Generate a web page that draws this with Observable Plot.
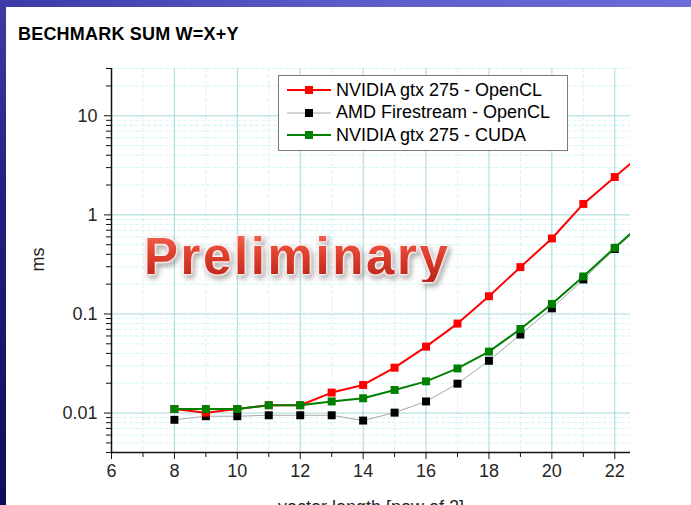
<!DOCTYPE html>
<html>
<head>
<meta charset="utf-8">
<script src="https://cdn.jsdelivr.net/npm/d3@7"></script>
<script src="https://cdn.jsdelivr.net/npm/@observablehq/plot@0.6"></script>
<style>
  html, body { margin: 0; padding: 0; width: 691px; height: 505px; overflow: hidden; background: #fff; }
  body { font-family: "Liberation Sans", Arial, sans-serif; }
  #page { position: relative; width: 691px; height: 505px; }
  #topband { position: absolute; left: 0; top: 0; width: 691px; height: 7px; z-index: 5;
    background: linear-gradient(to right, #3b3ba6, #5c5cc6 50%, #6c6cd6); }
  #leftband { position: absolute; left: 0; top: 0; width: 6px; height: 505px; z-index: 6;
    background: linear-gradient(to bottom, #3c3ca6, #202080 40%, #0e0e58); }
  #title { position: absolute; left: 18px; top: 25px; font-size: 18px; line-height: 18px;
    font-weight: bold; letter-spacing: 0.2px; color: #000; white-space: nowrap; }
  #chart { position: absolute; left: 0; top: 50px; }
  #chart svg { overflow: visible; }
  #legend { position: absolute; left: 278px; top: 75px; width: 288px; height: 71px;
    border: 1px solid #7a7a7a; background: #fff; padding-top: 3px; box-sizing: content-box; }
  #legend .row { display: flex; align-items: center; height: 22.5px; font-size: 18px; color: #000; white-space: nowrap; }
  #legend svg { margin-left: 8px; margin-right: 5px; flex: none; }
  #stamp { position: absolute; left: 144px; top: 231px; font-size: 51px; line-height: 51px;
    font-weight: bold; letter-spacing: 2.6px; white-space: nowrap;
    font-family: "Liberation Sans", Arial, sans-serif;
    background: linear-gradient(to bottom, #f26a58 0%, #e0402e 45%, #b8221a 100%);
    -webkit-background-clip: text; background-clip: text; color: transparent;
    filter: drop-shadow(0 0 1.2px #fff) drop-shadow(0 0 1.2px #fff) drop-shadow(0 0 1px #ffe0dc) drop-shadow(2px 3px 2.5px rgba(0,0,0,0.35)); }
</style>
</head>
<body>
<div id="page">
  <div id="topband"></div>
  <div id="leftband"></div>
  <div id="title">BECHMARK SUM W=X+Y</div>
  <div id="chart"></div>
  <div id="legend"></div>
  <div id="stamp">Preliminary</div>
</div>
<script>
// Vector length as power of two, and run times in milliseconds
const sizes = [8, 9, 10, 11, 12, 13, 14, 15, 16, 17, 18, 19, 20, 21, 22, 23];
const nvidiaOpenCL = [0.0110, 0.0101, 0.0110, 0.0120, 0.0120, 0.0161, 0.0192, 0.0287, 0.0468, 0.080, 0.151, 0.297, 0.578, 1.29, 2.41, 4.5];
const amdOpenCL    = [0.00855, 0.0093, 0.0093, 0.0095, 0.0095, 0.0095, 0.0084, 0.0101, 0.0131, 0.0198, 0.0337, 0.062, 0.114, 0.223, 0.452, 0.87];
const nvidiaCUDA   = [0.0110, 0.0110, 0.0110, 0.0120, 0.0120, 0.0131, 0.0141, 0.0171, 0.0209, 0.0282, 0.0417, 0.0706, 0.1263, 0.239, 0.466, 0.895];

const seriesNames = ["NVIDIA gtx 275 - OpenCL", "AMD Firestream - OpenCL", "NVIDIA gtx 275 - CUDA"];
const seriesColors = ["#ff0000", "#000000", "#008000"];
const lineColors = ["#ff0000", "#a8a8a8", "#008000"];
const lineWidths = [2, 1, 2];

// Axis ticks
const xTicks = [6, 8, 10, 12, 14, 16, 18, 20, 22];
const xMinor = [7, 9, 11, 13, 15, 17, 19, 21];
const yTicks = [0.01, 0.1, 1, 10];
const yMinor = [0.004, 0.005, 0.006, 0.007, 0.008, 0.009,
                0.02, 0.03, 0.04, 0.05, 0.06, 0.07, 0.08, 0.09,
                0.2, 0.3, 0.4, 0.5, 0.6, 0.7, 0.8, 0.9,
                2, 3, 4, 5, 6, 7, 8, 9, 20, 30];

const xLabel = "vector length [pow of 2]";
const yLabel = "ms";

const toRows = (vals) => sizes.map((x, i) => ({x, y: vals[i]}));
const series = [toRows(nvidiaOpenCL), toRows(amdOpenCL), toRows(nvidiaCUDA)];
// draw order: AMD underneath, then NVIDIA OpenCL, CUDA on top
const order = [1, 0, 2];

const seriesMarks = order.flatMap((k) => [
  Plot.line(series[k], {x: "x", y: "y", stroke: lineColors[k], strokeWidth: lineWidths[k], clip: true}),
  Plot.dot(series[k], {x: "x", y: "y", symbol: "square", r: 4.5, fill: seriesColors[k], clip: true})
]);

const gridMajor = "#a6d8d8";
const gridMinor = "#d2f6f6";

const chart = Plot.plot({
  width: 691,
  height: 455,
  marginLeft: 111,
  marginRight: 61,
  marginTop: 18,
  marginBottom: 53,
  style: {fontFamily: "'Liberation Sans', Arial, sans-serif", fontSize: "18px", color: "#262626", background: "transparent", overflow: "visible"},
  x: {domain: [6, 22.5]},
  y: {type: "log", domain: [0.004, 30]},
  marks: [
    Plot.gridX(xMinor, {stroke: gridMinor, strokeOpacity: 1, strokeDasharray: "4,2"}),
    Plot.gridY(yMinor, {stroke: gridMinor, strokeOpacity: 1, strokeDasharray: "4,2"}),
    Plot.gridX(xTicks, {stroke: gridMajor, strokeOpacity: 1}),
    Plot.gridY(yTicks, {stroke: gridMajor, strokeOpacity: 1}),
    Plot.axisX(xMinor, {tickSize: 5, tickFormat: () => "", label: null, stroke: "#111"}),
    Plot.axisX(xTicks, {tickSize: 7, tickPadding: 5, label: null, stroke: "#111", fill: "#262626", fontSize: 18}),
    Plot.axisY(yMinor, {tickSize: 5, tickFormat: () => "", label: null, stroke: "#111"}),
    Plot.axisY(yTicks, {tickSize: 7, tickPadding: 7, label: null, stroke: "#111", fill: "#262626", fontSize: 18,
      tickFormat: (d) => String(d)}),
    Plot.ruleX([6], {stroke: "#111", strokeWidth: 1.5}),
    Plot.ruleY([0.004], {stroke: "#111", strokeWidth: 1.5}),
    ...seriesMarks,
    Plot.text([yLabel], {frameAnchor: "left", dx: -73, dy: 11, rotate: -90, fontSize: 18, fill: "#262626"}),
    Plot.text([xLabel], {frameAnchor: "bottom", dy: 60, fontSize: 18, fill: "#262626"})
  ]
});
document.getElementById("chart").appendChild(chart);

// Legend: line + square marker per series
const legend = document.getElementById("legend");
seriesNames.forEach((name, k) => {
  const row = document.createElement("div");
  row.className = "row";
  const ns = "http://www.w3.org/2000/svg";
  const sw = document.createElementNS(ns, "svg");
  sw.setAttribute("width", 44);
  sw.setAttribute("height", 12);
  const ln = document.createElementNS(ns, "line");
  ln.setAttribute("x1", 0); ln.setAttribute("x2", 44);
  ln.setAttribute("y1", 6); ln.setAttribute("y2", 6);
  ln.setAttribute("stroke", lineColors[k]);
  ln.setAttribute("stroke-width", lineWidths[k]);
  const sq = document.createElementNS(ns, "rect");
  sq.setAttribute("x", 18); sq.setAttribute("y", 2);
  sq.setAttribute("width", 8); sq.setAttribute("height", 8);
  sq.setAttribute("fill", seriesColors[k]);
  sw.appendChild(ln); sw.appendChild(sq);
  row.appendChild(sw);
  const label = document.createElement("span");
  label.textContent = name;
  row.appendChild(label);
  legend.appendChild(row);
});
</script>
</body>
</html>
